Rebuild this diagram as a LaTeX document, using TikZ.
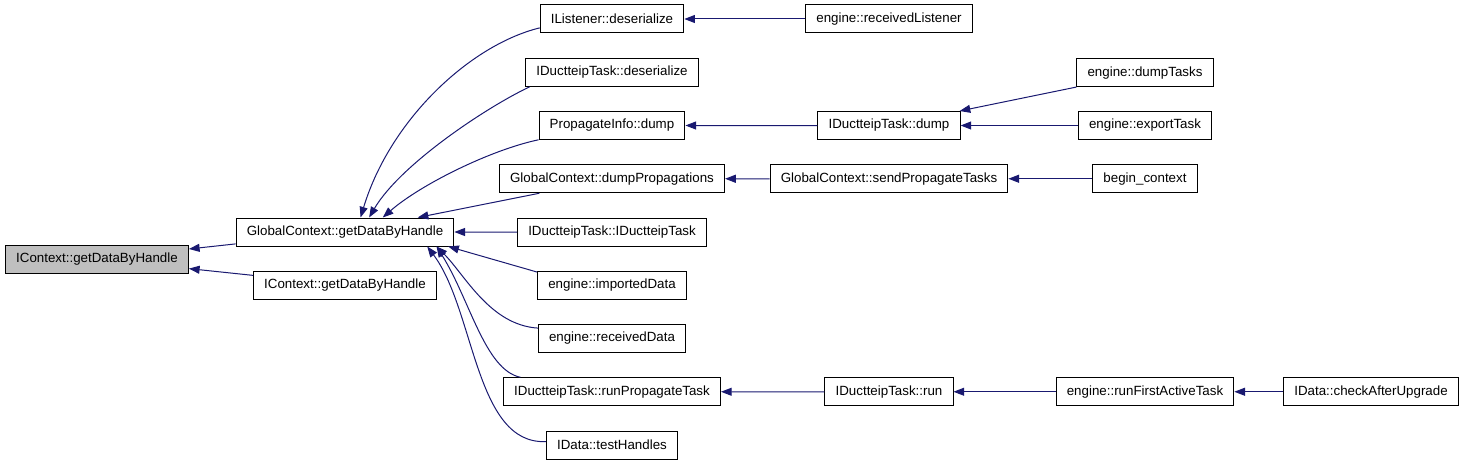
\documentclass[tikz,border=0pt]{standalone}
\usepackage{fontspec}
\setmainfont{Liberation Sans}
\usetikzlibrary{arrows.meta,positioning}

\definecolor{callblue}{RGB}{25,25,112}
\definecolor{rootgray}{RGB}{191,191,191}

\begin{document}
\begin{tikzpicture}[x=0.75pt,y=-0.75pt,>={Triangle[length=8pt,width=6pt]},node distance=39.94pt,
                    fn node/.style={rectangle,draw=black,line width=0.75pt,font=\fontsize{10}{12}\selectfont,
                                    minimum height=21pt,inner xsep=8pt,inner ysep=0pt},
                    call/.style={draw=callblue,line width=0.75pt,<-}]

      \useasboundingbox (0,0) rectangle (1464,467);

      % caller column
      \node[fn node] (lsd) at (612,19) {IListener::deserialize};
      \node[fn node] (itd) [below of=lsd] {IDuctteipTask::deserialize};
      \node[fn node] (pid) [below of=itd] {PropagateInfo::dump};
      \node[fn node] (gcp) [below of=pid] {GlobalContext::dumpPropagations};
      \node[fn node] (itc) [below of=gcp] {IDuctteipTask::IDuctteipTask};
      \node[fn node] (eid) [below of=itc] {engine::importedData};
      \node[fn node] (erd) [below of=eid] {engine::receivedData};
      \node[fn node] (irp) [below of=erd] {IDuctteipTask::runPropagateTask};
      \node[fn node] (idt) [below of=irp] {IData::testHandles};

      \node[fn node,fill=rootgray] (icd) at (97,259) {IContext::getDataByHandle};
      \node[fn node] (gcd) at (345,232) {GlobalContext::getDataByHandle};
      \node[fn node] (icx) at (345,285) {IContext::getDataByHandle};

      \node[fn node] (erl) at (889,19) {engine::receivedListener};
      \node[fn node] (idd) at (889,125.5) {IDuctteipTask::dump};
      \node[fn node] (spt) at (889,178.75) {GlobalContext::sendPropagateTasks};
      \node[fn node] (itr) at (889,391.75) {IDuctteipTask::run};

      \node[fn node] (edt) at (1145,73) {engine::dumpTasks};
      \node[fn node] (eet) at (1145,125.5) {engine::exportTask};
      \node[fn node] (bgc) at (1145,178.75) {begin\_context};
      \node[fn node] (rfa) at (1145,391.75) {engine::runFirstActiveTask};
      \node[fn node] (cau) at (1371,391.75) {IData::checkAfterUpgrade};

      \path[every edge/.style={call}]
        (icd) edge (gcd)
              edge (icx)
        (gcd) edge (itc)
              edge (gcp)
        (lsd) edge (erl)
        (pid) edge (idd)
        (idd) edge (edt)
              edge (eet)
        (gcp) edge (spt)
        (spt) edge (bgc)
        (irp) edge (itr)
        (itr) edge (rfa)
        (rfa) edge (cau);

      % curved callers of GlobalContext::getDataByHandle
      \draw[call] (gcd.43) .. controls (390,120) and (470,45) .. (lsd.187);
      \draw[call] (gcd.31.3) .. controls (400,165) and (485,108) .. (itd.190.2);
      \draw[call] (gcd.21.8) .. controls (420,185) and (490,150) .. (pid.191.3);
      \draw[call] (gcd.-8.4) -- (eid.170.4);
      \draw[call] (gcd.-9.1) .. controls (465,275) and (490,325) .. (erd.172);
      \draw[call] (gcd.-9.9) .. controls (470,300) and (485,370) .. (irp.171.2);
      \draw[call] (gcd.-10.5) .. controls (475,310) and (475,445) .. (idt.177.4);
    \end{tikzpicture}
\end{document}
